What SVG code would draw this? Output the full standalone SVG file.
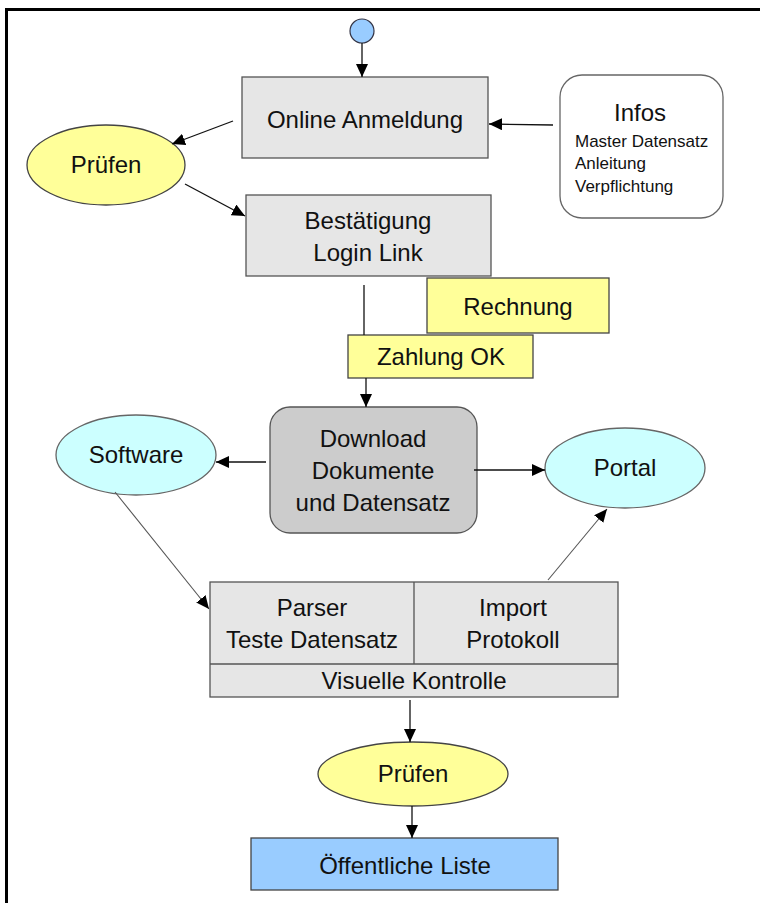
<svg xmlns="http://www.w3.org/2000/svg" width="760" height="903" viewBox="0 0 760 903">
  <style>
    text { font-family: "Liberation Sans", Arial, sans-serif; fill: #111; text-anchor: middle; }
    .t { font-size: 24px; }
    .s { font-size: 17px; text-anchor: start; }
    .box { fill: #e6e6e6; stroke: #555; stroke-width: 1.3; }
    .yel { fill: #ffff99; stroke: #444; stroke-width: 1.3; }
    .cyan { fill: #ccffff; stroke: #666; stroke-width: 1.3; }
    .edge { stroke: #111; stroke-width: 1.3; fill: none; }
    .thin { stroke: #555; stroke-width: 1.1; fill: none; }
  </style>
  <defs>
    <marker id="arrow" viewBox="0 0 13 12" refX="13" refY="6" markerWidth="13" markerHeight="12" markerUnits="userSpaceOnUse" orient="auto">
      <path d="M0,0 L13,6 L0,12 Z" fill="#000"/>
    </marker>
  </defs>

  <rect width="760" height="903" fill="#fff"/>
  <!-- frame -->
  <path d="M6.5,903 V9.5 H760" fill="none" stroke="#000" stroke-width="3"/>

  <g id="start">
    <ellipse cx="362" cy="31" rx="12" ry="12" fill="#99ccff" stroke="#334" stroke-width="1.2"/>
  </g>

  <g id="online-anmeldung">
    <rect class="box" x="242" y="77" width="246" height="81"/>
    <text class="t" x="365" y="128">Online Anmeldung</text>
  </g>

  <g id="pruefen-1">
    <ellipse class="yel" cx="106" cy="165" rx="79" ry="40"/>
    <text class="t" x="106" y="173">Prüfen</text>
  </g>

  <g id="infos">
    <rect x="560" y="75" width="163" height="143" rx="22" fill="#fff" stroke="#666" stroke-width="1.3"/>
    <text class="t" x="640" y="121">Infos</text>
    <text class="s" x="575" y="147">Master Datensatz</text>
    <text class="s" x="575" y="169">Anleitung</text>
    <text class="s" x="575" y="192">Verpflichtung</text>
  </g>

  <g id="bestaetigung">
    <rect class="box" x="246" y="195" width="245" height="81"/>
    <text class="t" x="368" y="229">Bestätigung</text>
    <text class="t" x="368" y="261">Login Link</text>
  </g>

  <g id="rechnung">
    <rect class="yel" x="427" y="278" width="182" height="55"/>
    <text class="t" x="518" y="315">Rechnung</text>
  </g>

  <g id="zahlung-ok">
    <rect class="yel" x="348" y="335" width="185" height="43"/>
    <text class="t" x="441" y="365">Zahlung OK</text>
  </g>

  <g id="download">
    <rect x="270" y="407" width="207" height="126" rx="20" fill="#cccccc" stroke="#555" stroke-width="1.3"/>
    <text class="t" x="373" y="447">Download</text>
    <text class="t" x="373" y="479">Dokumente</text>
    <text class="t" x="373" y="511">und Datensatz</text>
  </g>

  <g id="software">
    <ellipse class="cyan" cx="136" cy="455" rx="80" ry="40"/>
    <text class="t" x="136" y="463">Software</text>
  </g>

  <g id="portal">
    <ellipse class="cyan" cx="625" cy="468" rx="80" ry="40"/>
    <text class="t" x="625" y="476">Portal</text>
  </g>

  <g id="pruefung-import">
    <rect class="box" x="210" y="582" width="408" height="115"/>
    <path d="M414,582 V664 M210,664 H618" stroke="#555" stroke-width="1.3" fill="none"/>
    <text class="t" x="312" y="616">Parser</text>
    <text class="t" x="312" y="648">Teste Datensatz</text>
    <text class="t" x="513" y="616">Import</text>
    <text class="t" x="513" y="648">Protokoll</text>
    <text class="t" x="414" y="689">Visuelle Kontrolle</text>
  </g>

  <g id="pruefen-2">
    <ellipse class="yel" cx="413" cy="774" rx="95" ry="32"/>
    <text class="t" x="413" y="782">Prüfen</text>
  </g>

  <g id="oeffentliche-liste">
    <rect x="251" y="838" width="307" height="52" fill="#99ccff" stroke="#444" stroke-width="1.3"/>
    <text class="t" x="405" y="874">Öffentliche Liste</text>
  </g>

  <g id="connectors">
    <line class="edge" x1="362" y1="43" x2="362" y2="77" marker-end="url(#arrow)"/>
    <line class="edge" x1="233" y1="121" x2="172" y2="144" marker-end="url(#arrow)"/>
    <line class="edge" x1="553" y1="125" x2="489" y2="124" marker-end="url(#arrow)"/>
    <line class="edge" x1="185" y1="184" x2="245" y2="216" marker-end="url(#arrow)"/>
    <line class="edge" x1="364" y1="285" x2="364" y2="335"/>
    <line class="edge" x1="366" y1="378" x2="366" y2="407" marker-end="url(#arrow)"/>
    <line class="edge" x1="266" y1="462" x2="216" y2="462" marker-end="url(#arrow)"/>
    <line class="edge" x1="474" y1="470" x2="545" y2="470" marker-end="url(#arrow)"/>
    <line class="thin" x1="115" y1="492" x2="209" y2="609" marker-end="url(#arrow)"/>
    <line class="thin" x1="548" y1="580" x2="607" y2="509" marker-end="url(#arrow)"/>
    <line class="edge" x1="410" y1="700" x2="410" y2="742" marker-end="url(#arrow)"/>
    <line class="edge" x1="412" y1="806" x2="412" y2="838" marker-end="url(#arrow)"/>
  </g>
</svg>
